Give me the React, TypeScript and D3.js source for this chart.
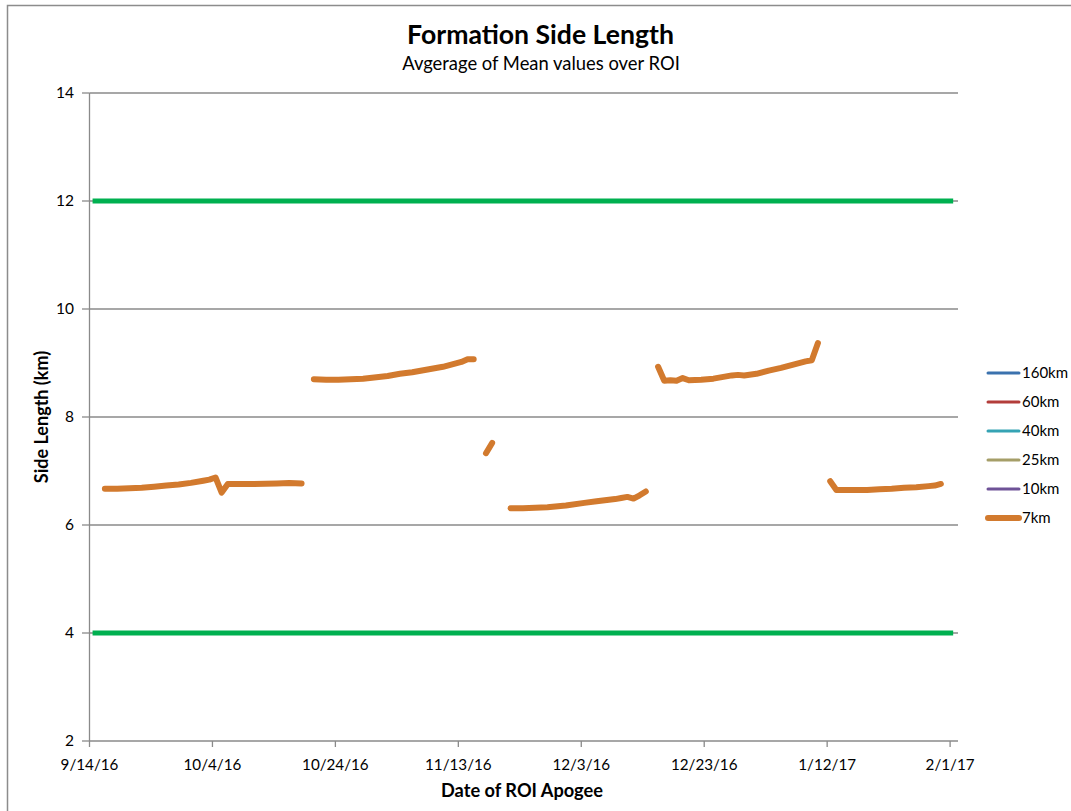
import * as d3 from "d3";

const parseDate = d3.timeParse("%m/%d/%y");

// tick labels
const xTickLabels = ["9/14/16", "10/4/16", "10/24/16", "11/13/16", "12/3/16", "12/23/16", "1/12/17", "2/1/17"];
const yTicks = [2, 4, 6, 8, 10, 12, 14];

// legend series (only 7km has data in range)
const seriesNames = ["160km", "60km", "40km", "25km", "10km", "7km"];
const seriesColors = ["#3b72ae", "#b33d3a", "#35a3b4", "#a59e68", "#6e5297", "#d27a2e"];

// 7km formation: mean side length per apogee date (null = gap)
const dates7km = [
  "9/16/16", "9/18/16", "9/20/16", "9/22/16", "9/24/16", "9/26/16", "9/28/16", "9/30/16",
  "10/2/16", "10/3/16", "10/4/16", "10/5/16", "10/6/16", "10/10/16", "10/14/16", "10/16/16",
  "10/18/16", "10/19/16",
  "10/20/16", "10/22/16", "10/24/16", "10/28/16", "11/1/16", "11/3/16", "11/5/16", "11/10/16",
  "11/13/16", "11/14/16", "11/15/16", "11/16/16",
  "11/17/16", "11/18/16", "11/19/16",
  "11/21/16", "11/23/16", "11/25/16", "11/27/16", "11/30/16", "12/3/16", "12/5/16", "12/8/16",
  "12/9/16", "12/10/16", "12/11/16", "12/12/16", "12/13/16", "12/14/16",
  "12/15/16", "12/16/16", "12/17/16", "12/18/16", "12/19/16", "12/20/16", "12/22/16", "12/24/16",
  "12/27/16", "12/28/16", "12/29/16", "12/31/16", "1/2/17", "1/4/17", "1/6/17", "1/8/17",
  "1/9/17", "1/10/17", "1/11/17",
  "1/12/17", "1/13/17", "1/15/17", "1/18/17", "1/20/17", "1/22/17", "1/24/17", "1/26/17",
  "1/28/17", "1/29/17", "1/30/17",
];
const values7km: (number | null)[] = [
  6.67, 6.67, 6.68, 6.69, 6.71, 6.73, 6.75, 6.78,
  6.82, 6.84, 6.88, 6.6, 6.76, 6.76, 6.77, 6.78,
  6.77, null,
  8.7, 8.69, 8.69, 8.71, 8.76, 8.8, 8.83, 8.93,
  9.02, 9.07, 9.07, null,
  7.33, 7.52, null,
  6.31, 6.31, 6.32, 6.33, 6.36, 6.41, 6.44, 6.48,
  6.5, 6.52, 6.49, 6.55, 6.62, null,
  8.93, 8.67, 8.68, 8.67, 8.72, 8.68, 8.69, 8.71,
  8.77, 8.78, 8.77, 8.8, 8.86, 8.91, 8.97, 9.03,
  9.05, 9.37, null,
  6.81, 6.65, 6.65, 6.65, 6.66, 6.67, 6.69, 6.7,
  6.72, 6.73, 6.76,
];

// limit lines
const limitDates = ["9/14/16", "2/1/17"];
const upperLimit = [12, 12];
const lowerLimit = [4, 4];

const FONT = "Lato, 'Open Sans', sans-serif";

const W = 1071;
const H = 811;
const left = 89.5;
const right = 950.1;
const top = 93;
const bottom = 741;

export default function App() {
  const x = d3
    .scaleTime()
    .domain([parseDate("9/14/16")!, parseDate("2/1/17")!])
    .range([left, right]);
  const y = d3.scaleLinear().domain([2, 14]).range([bottom, top]);

  // points sit at mid-day of their date
  const xAt = (s: string) => x(d3.timeHour.offset(parseDate(s)!, 12));

  const pts = dates7km.map((d, i) => ({ d, v: values7km[i] }));
  const line = d3
    .line<{ d: string; v: number | null }>()
    .defined((p) => p.v != null)
    .x((p) => xAt(p.d))
    .y((p) => y(p.v as number));

  const limitLine = (vals: number[]) =>
    d3
      .line<string>()
      .x((d) => xAt(d))
      .y((_, i) => y(vals[i]))(limitDates) ?? "";

  return (
    <div style={{ position: "absolute", left: 0, top: 0 }}>
      <svg width={W} height={H} style={{ display: "block", fontFamily: FONT }}>
        <rect x={0} y={0} width={W} height={H} fill="#fff" />
        <rect x={7.5} y={5.5} width={W + 20} height={H + 20} fill="none" stroke="#8c8c8c" strokeWidth={1.5} />

        <text x={540.5} y={44} textAnchor="middle" fontSize={26.6} fontWeight="bold" fill="#000">
          Formation Side Length
        </text>
        <text x={541} y={70} textAnchor="middle" fontSize={18.4} fill="#000">
          Avgerage of Mean values over ROI
        </text>

        {/* gridlines */}
        {yTicks.slice(1).map((t) => (
          <line key={t} x1={left} x2={958} y1={y(t)} y2={y(t)} stroke="#8a8a8a" strokeWidth={1.3} />
        ))}

        {/* y axis */}
        <line x1={left} x2={left} y1={top} y2={bottom} stroke="#8a8a8a" strokeWidth={1.3} />
        {yTicks.map((t) => (
          <g key={t}>
            <line x1={82} x2={left} y1={y(t)} y2={y(t)} stroke="#8a8a8a" strokeWidth={1.3} />
            <text x={74} y={y(t) + 5.3} textAnchor="end" fontSize={15.5} fill="#000">
              {t}
            </text>
          </g>
        ))}

        {/* x axis */}
        <line x1={left} x2={958} y1={bottom} y2={bottom} stroke="#8a8a8a" strokeWidth={1.3} />
        {xTickLabels.map((s) => (
          <g key={s}>
            <line x1={x(parseDate(s)!)} x2={x(parseDate(s)!)} y1={bottom} y2={bottom + 6} stroke="#8a8a8a" strokeWidth={1.3} />
            <text x={x(parseDate(s)!)} y={770} textAnchor="middle" fontSize={15.2} fill="#000">
              {s}
            </text>
          </g>
        ))}

        <text x={522} y={797} textAnchor="middle" fontSize={18.2} fontWeight="bold" fill="#000">
          Date of ROI Apogee
        </text>
        <text
          transform={`translate(48,${(top + bottom) / 2}) rotate(-90)`}
          textAnchor="middle"
          fontSize={18}
          fontWeight="bold"
          fill="#000"
        >
          Side Length (km)
        </text>

        {/* limits */}
        <path d={limitLine(upperLimit)} stroke="#00b050" strokeWidth={5} fill="none" />
        <path d={limitLine(lowerLimit)} stroke="#00b050" strokeWidth={5} fill="none" />

        {/* 7km series */}
        <path
          d={line(pts) ?? ""}
          stroke={seriesColors[5]}
          strokeWidth={6}
          fill="none"
          strokeLinecap="round"
          strokeLinejoin="round"
        />

        {/* legend */}
        {seriesNames.map((n, i) => {
          const ly = 373 + i * 29;
          const last = i === seriesNames.length - 1;
          return (
            <g key={n}>
              <line
                x1={988}
                x2={1019}
                y1={ly}
                y2={ly}
                stroke={seriesColors[i]}
                strokeWidth={last ? 6 : 3}
                strokeLinecap="round"
              />
              <text x={1022} y={ly + 5.3} fontSize={15} fill="#000">
                {n}
              </text>
            </g>
          );
        })}
      </svg>
    </div>
  );
}
